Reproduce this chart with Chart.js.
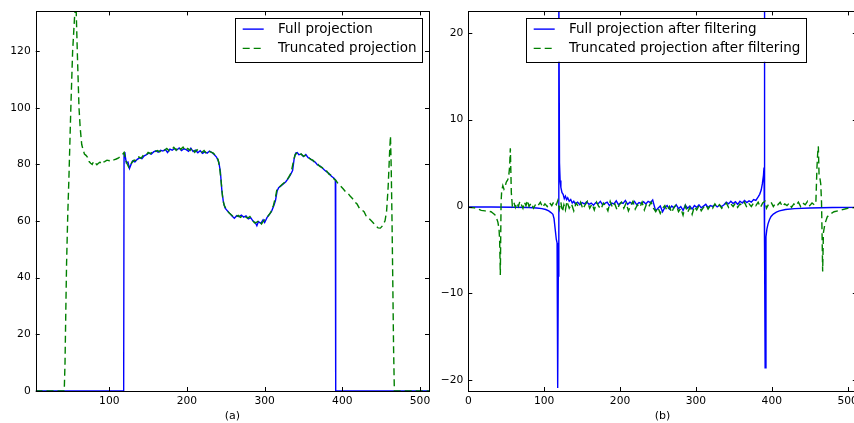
<!DOCTYPE html>
<html><head><meta charset="utf-8">
<script src="https://cdn.jsdelivr.net/npm/chart.js@4/dist/chart.umd.min.js"></script>
<style>
html,body{margin:0;padding:0;background:#fff;overflow:hidden;width:854px;height:423px;}
#wrapA{position:absolute;left:0;top:0;width:440px;height:423px;}
#wrapB{position:absolute;left:440px;top:0;width:440px;height:423px;}
canvas{display:block;}
</style></head><body>
<div id="wrapA"><canvas id="cA" width="440" height="423"></canvas></div>
<div id="wrapB"><canvas id="cB" width="440" height="423"></canvas></div>
<script>
// ---------- data ----------
const labelsA = ['Full projection', 'Truncated projection'];
const labelsB = ['Full projection after filtering', 'Truncated projection after filtering'];
const titleA = '(a)';
const titleB = '(b)';
const xTicksA = [100, 200, 300, 400, 500];
const yTicksA = [0, 20, 40, 60, 80, 100, 120];
const xTicksB = [0, 100, 200, 300, 400, 500];
const yTicksB = [-20, -10, 0, 10, 20];

const fullProjection = [[5,0],[118.5,0],[119,83.5],[120,84.3],[121,82],[122,80.5],[124,80.8],[126,78.6],[128,80],[130,81.2],
[133,80.9],[136,81.8],[139,82.3],[142,82.0],[145,83.0],[148,83.4],[151,84.0],[154,83.6],[157,84.4],[160,84.8],
[163,84.3],[166,85.0],[169,84.7],[172,85.3],[175,84.2],[178,85.4],[181,85.0],[184,85.6],[187,85.1],[190,85.8],
[193,84.9],[196,85.5],[199,85.2],[202,84.6],[205,85.7],[208,84.5],[211,85.0],[214,84.1],[217,84.8],[220,83.9],
[223,84.4],[226,84.0],[229,84.7],[232,84.2],[235,83.5],[238,82.6],[241,80.8],[243,77.5],[245,70.5],[247,66.5],
[249,64.6],[252,63.6],[255,62.7],[258,61.8],[261,61.0],[264,61.9],[267,61.5],[270,62.1],[273,61.4],[276,61.8],
[279,60.8],[282,61.2],[285,60.0],[288,59.4],[290,58.3],[292,59.8],[295,59.2],[298,60.4],[300,59.5],[303,61.2],
[306,62.3],[309,63.5],[312,65.6],[314,67.3],[316,70.5],[318,71.8],[321,72.4],[324,73.1],[327,73.8],[330,74.9],
[333,76.2],[336,77.8],[338,82.0],[340,84.0],[342,84.2],[344,83.4],[347,83.6],[350,82.8],[353,83.5],[356,82.4],
[359,82.0],[362,81.3],[365,80.8],[368,79.8],[371,79.5],[374,78.8],[377,78.0],[380,77.3],[383,76.8],[386,75.8],
[389,75.2],[391,74.6],[391.5,0],[512,0]];

const truncatedProjection = [[5,0],[42,0],[43,10],[44,28],[45,45],[46.5,62],[48,75],[50.5,100],[52.8,120],[55.5,133],
[57,138],[58.3,125],[59,118],[61,100],[62.5,93],[64.5,87],[66,85.5],[68,83.6],[70,83.2],[72,82.5],
[74,81.0],[76,80.4],[78,80.0],[80,81.1],[82,80.5],[84,79.9],[86,80.4],[88,80.8],[90,80.1],[92,80.7],
[94,81.0],[97,81.5],[100,81.3],[103,81.8],[106,81.6],[109,81.9],[112,82.3],[115,83.0],[117,83.5],[119,84.2],
[121,81.5],[123,80.2],[125,79.0],[127,79.6],[129,80.7],[132,81.5],[135,81.3],[138,82.6],[141,82.2],[144,83.3],
[147,83.1],[150,84.2],[153,83.8],[156,84.7],[159,84.5],[162,84.9],[165,84.4],[168,85.3],[171,84.9],[174,85.6],
[177,84.8],[180,85.2],[183,86.0],[186,85.0],[189,86.2],[192,85.3],[195,86.1],[198,84.8],[201,85.6],[204,84.9],
[207,85.9],[210,84.3],[213,85.2],[216,84.4],[219,84.2],[222,84.9],[225,83.8],[228,84.6],[231,84.3],[234,84.0],
[237,83.0],[240,81.8],[242,79.0],[244,74],[246,68],[248,65.5],[251,64.0],[254,62.9],[257,62.2],[260,61.5],
[263,61.4],[266,62.0],[269,61.3],[272,62.0],[275,61.6],[278,61.0],[281,61.6],[284,60.5],[287,59.3],[290,59.6],
[293,60.3],[296,59.0],[299,60.2],[302,60.9],[305,62.0],[308,63.1],[311,65.2],[314,68.5],[316,71.5],[319,72.0],
[322,72.8],[325,73.5],[328,74.2],[331,75.5],[334,77.0],[337,81.0],[339,83.3],[341,83.9],[344,83.1],[347,83.7],
[350,82.9],[353,83.2],[356,82.6],[359,81.8],[362,81.5],[365,80.5],[368,80.2],[371,79.3],[374,78.9],[377,77.8],
[380,77.6],[383,76.5],[386,76.2],[389,74.9],[392,74.2],[395,73.0],[398,72.3],[401,71.4],[404,70.4],[407,69.9],
[410,68.8],[413,68.0],[416,66.8],[419,66.0],[422,64.5],[425,64.0],[428,63.3],[431,61.6],[434,61.0],[437,60.2],
[440,59.3],[443,58.3],[446,57.6],[449,57.5],[452,58.4],[455,60.1],[457,63.5],[459,72],[461,85],[462,90],
[463,78],[464,60],[465,38],[466,15],[467,0],[512,0]];

const fullFiltered = [[0,-0.05],[30,-0.06],[60,-0.08],[80,-0.12],[90,-0.18],[97,-0.25],[102,-0.35],[106,-0.5],[109,-0.7],[111.5,-0.9],
[113,-1.4],[114.5,-2.6],[116,-3.8],[117,-4.2],[117.8,-20.9],[118.6,-8],[119.3,26],[120.2,5.0],[121,3.0],[122,2.2],
[123.5,1.6],[125,1.4],[126.5,0.9],[128,1.2],[129.5,0.8],[131,1.0],[133,0.6],[135,0.8],[137,0.4],[139,0.6],
[141,0.3],[144,0.5],[147,0.2],[150,0.45],[153,0.3],[156,0.55],[159,0.25],[162,0.4],[165,0.15],[168,0.45],
[171,0.3],[174,0.6],[177,0.2],[180,0.35],[183,0.5],[186,0.1],[189,0.4],[192,0.3],[195,0.65],[198,0.2],
[201,0.45],[204,0.35],[207,0.7],[210,0.25],[213,0.5],[216,0.3],[219,0.6],[222,0.2],[225,0.45],[228,0.35],
[231,0.55],[234,0.3],[237,0.6],[240,0.45],[243,0.75],[245,0.1],[247,-0.5],[250,-0.2],[253,0.05],[256,-0.6],
[259,-0.1],[262,0.1],[265,-0.3],[268,0.05],[271,-0.15],[274,0.2],[277,-0.25],[280,0.0],[283,-0.45],[286,0.15],
[289,-0.2],[292,0.05],[295,-0.3],[298,0.1],[301,-0.1],[304,0.2],[307,-0.15],[310,0.05],[313,0.25],[316,-0.1],
[319,0.1],[322,0.0],[325,0.2],[328,-0.05],[331,0.15],[334,0.0],[337,0.2],[340,0.5],[343,0.3],[346,0.6],
[349,0.35],[352,0.55],[355,0.25],[358,0.6],[361,0.4],[364,0.7],[367,0.45],[370,0.65],[373,0.5],[376,0.8],
[379,0.7],[382,1.1],[384,1.4],[386,1.9],[387.5,2.6],[389,3.6],[389.7,4.5],[390.2,26],[390.7,-5],[391.2,-18.6],
[392.3,-3.5],[393.5,-2.6],[395,-2.0],[397,-1.5],[399,-1.15],[402,-0.87],[406,-0.65],[410,-0.5],[418,-0.35],[430,-0.25],
[450,-0.18],[480,-0.12],[512,-0.1]];

const truncatedFiltered = [[0,-0.1],[8,-0.15],[13,-0.3],[17,-0.45],[22,-0.5],[27,-0.55],[30,-0.6],[33,-0.8],[35,-0.95],[37,-1.3],
[39,-1.8],[40.5,-2.6],[41.3,-3.9],[42.2,-7.9],[43.2,0.5],[44,1.8],[45.5,2.4],[47,2.0],[48.5,2.3],[50,2.8],
[51.5,3.0],[53,3.3],[54.5,4.6],[55.4,6.7],[56.7,1.6],[58,0.1],[60,0.5],[62,-0.1],[64,0.4],[66,0.0],
[68,0.6],[70,0.2],[72,-0.2],[74,0.5],[76,0.1],[78,0.7],[80,0.0],[83,0.4],[86,-0.2],[89,0.3],
[92,0.1],[95,0.5],[98,-0.1],[101,0.3],[104,0.0],[107,0.45],[110,0.1],[113,0.6],[116,0.2],[118,0.7],
[120,-0.3],[122,0.5],[124,-0.6],[126,0.2],[128,-0.4],[130,0.6],[133,-0.2],[136,0.3],[139,-0.5],[142,0.4],
[145,0.0],[148,0.5],[151,-0.3],[154,0.2],[157,0.6],[160,-0.2],[163,0.3],[166,-0.4],[169,0.5],[172,0.0],
[175,-0.3],[178,0.4],[181,0.1],[184,-0.5],[187,0.6],[190,-0.1],[193,0.3],[196,-0.4],[199,0.2],[202,0.5],
[205,-0.2],[208,0.4],[211,-0.5],[214,0.1],[217,0.6],[220,-0.3],[223,0.2],[226,-0.1],[229,0.5],[232,-0.4],
[235,0.3],[238,0.0],[241,0.5],[244,-0.2],[247,-0.6],[250,-0.1],[253,-0.8],[256,-0.2],[259,0.1],[262,-0.5],
[265,0.0],[268,-0.7],[271,-0.1],[274,0.2],[277,-0.6],[280,-0.2],[283,-1.0],[286,0.1],[289,-0.7],[292,-0.1],
[295,-0.9],[298,0.0],[301,-0.4],[304,0.1],[307,-0.5],[310,-0.1],[313,0.2],[316,-0.3],[319,0.1],[322,-0.2],
[325,0.3],[328,-0.1],[331,0.2],[334,-0.2],[337,0.1],[340,0.4],[343,-0.1],[346,0.3],[349,0.0],[352,0.4],
[355,-0.1],[358,0.3],[361,0.1],[364,0.5],[367,-0.1],[370,0.3],[373,0.0],[376,0.4],[379,0.1],[382,0.5],
[385,-0.1],[388,0.4],[391,0.6],[393,-0.2],[396,0.3],[399,0.5],[402,0.0],[405,0.4],[408,0.2],[411,0.5],
[414,0.0],[417,0.3],[420,0.1],[423,0.4],[426,-0.1],[429,0.3],[432,0.1],[435,0.5],[438,0.0],[441,0.4],
[444,0.2],[447,0.6],[450,0.1],[453,0.4],[456,0.2],[458,0.3],[459.5,4.5],[460.5,6.2],[461.3,6.95],[462.3,3.5],
[463.5,3.2],[464.5,2.6],[465.5,0.5],[466.3,-3.5],[467,-7.5],[468,-3.0],[470,-2.0],[473,-1.2],[476.6,-0.9],[482,-0.6],
[490,-0.45],[500,-0.2],[512,-0.1]];

// ---------- styling / drawing helpers ----------
const FONT = 'DejaVu Sans';
const BLUE = '#0000ff';
const GREEN = '#008000';

const framePlugin = {
  id: 'frame',
  afterDatasetsDraw(chart) {
    const {ctx, chartArea: a, scales: {x, y}} = chart;
    ctx.save();
    ctx.strokeStyle = '#000';
    ctx.lineWidth = 1;
    ctx.beginPath();
    for (const t of x.ticks) {
      const px = Math.round(x.getPixelForValue(t.value)) + 0.5;
      ctx.moveTo(px, a.bottom); ctx.lineTo(px, a.bottom - 4);
      ctx.moveTo(px, a.top); ctx.lineTo(px, a.top + 4);
    }
    for (const t of y.ticks) {
      const py = Math.round(y.getPixelForValue(t.value)) + 0.5;
      ctx.moveTo(a.left, py); ctx.lineTo(a.left + 4, py);
      ctx.moveTo(a.right, py); ctx.lineTo(a.right - 4, py);
    }
    ctx.stroke();
    ctx.strokeRect(Math.round(a.left) + 0.5, Math.round(a.top) + 0.5,
                   Math.round(a.right - a.left), Math.round(a.bottom - a.top));
    ctx.restore();
  }
};

const boxLegendPlugin = {
  id: 'boxLegend',
  afterDraw(chart, args, opts) {
    const {ctx, chartArea: a} = chart;
    const items = chart.data.datasets;
    ctx.save();
    ctx.font = '13.5px "' + FONT + '"';
    const tw = Math.max(...items.map(d => ctx.measureText(d.label).width));
    const padL = 8, lineLen = 21, gap = 14.3, padR = 5.5;
    const w = padL + lineLen + gap + tw + padR;
    const h = 43.6;
    const left = opts.side === 'right' ? a.right - opts.offset - w : a.left + opts.offset;
    const top = a.top + 6.7;
    ctx.fillStyle = '#fff';
    ctx.fillRect(left, top, w, h);
    ctx.strokeStyle = '#000';
    ctx.lineWidth = 1;
    ctx.strokeRect(Math.round(left) + 0.5, Math.round(top) + 0.5, Math.round(w), Math.round(h));
    items.forEach((d, i) => {
      const cy = top + 11 + i * 19.3;
      ctx.strokeStyle = d.borderColor;
      ctx.lineWidth = d.borderWidth;
      ctx.setLineDash(d.borderDash || []);
      ctx.beginPath();
      ctx.moveTo(left + padL, cy);
      ctx.lineTo(left + padL + lineLen, cy);
      ctx.stroke();
      ctx.setLineDash([]);
      ctx.fillStyle = '#000';
      ctx.textBaseline = 'middle';
      ctx.textAlign = 'left';
      ctx.fillText(d.label, left + padL + lineLen + gap, cy);
    });
    ctx.restore();
  }
};

function fmt(v) { return String(v).replace('-', '\u2212'); }

function makeChart(id, labels, blueData, greenData, cfg) {
  return new Chart(document.getElementById(id), {
    type: 'line',
    data: {
      datasets: [
        {label: labels[0], data: blueData, borderColor: BLUE, borderWidth: 1.4,
         pointRadius: 0, tension: 0, fill: false, order: 1},
        {label: labels[1], data: greenData, borderColor: GREEN, borderWidth: 1.4,
         borderDash: [7, 4], pointRadius: 0, tension: 0, fill: false, order: 0}
      ]
    },
    options: {
      responsive: false,
      animation: false,
      events: [],
      layout: {padding: cfg.padding},
      plugins: {
        legend: {display: false},
        tooltip: {enabled: false},
        boxLegend: cfg.legend
      },
      scales: {
        x: {
          type: 'linear', min: cfg.xmin, max: cfg.xmax,
          grid: {display: false, drawTicks: false},
          border: {display: false},
          ticks: {font: {family: FONT, size: 10.7}, color: '#000', padding: 4,
                  maxRotation: 0, autoSkip: false, callback: v => fmt(v)},
          afterBuildTicks: s => { s.ticks = cfg.xTicks.map(v => ({value: v})); },
          afterFit: s => { s.height = 32; },
          title: {display: true, text: cfg.title, color: '#000',
                  font: {family: FONT, size: 11}, padding: {top: 0, bottom: 0}}
        },
        y: {
          type: 'linear', min: cfg.ymin, max: cfg.ymax,
          grid: {display: false, drawTicks: false},
          border: {display: false},
          ticks: {font: {family: FONT, size: 10.7}, color: '#000', padding: 5,
                  autoSkip: false, callback: v => fmt(v)},
          afterBuildTicks: s => { s.ticks = cfg.yTicks.map(v => ({value: v})); },
          afterFit: s => { s.width = cfg.yWidth; }
        }
      }
    },
    plugins: [framePlugin, boxLegendPlugin]
  });
}

makeChart('cA', labelsA, fullProjection, truncatedProjection, {
  xmin: 5.25, xmax: 511.6, ymin: 0, ymax: 134,
  xTicks: xTicksA, yTicks: yTicksA, title: titleA,
  yWidth: 35.7, padding: {left: 0, right: 11, top: 10, bottom: 0},
  legend: {side: 'right', offset: 7}
});

makeChart('cB', labelsB, fullFiltered, truncatedFiltered, {
  xmin: 0, xmax: 512, ymin: -21.26, ymax: 22.48,
  xTicks: xTicksB, yTicks: yTicksB, title: titleB,
  yWidth: 28.3, padding: {left: 0, right: 23.2, top: 10, bottom: 0},
  legend: {side: 'left', offset: 57.4}
});
</script>
</body></html>
